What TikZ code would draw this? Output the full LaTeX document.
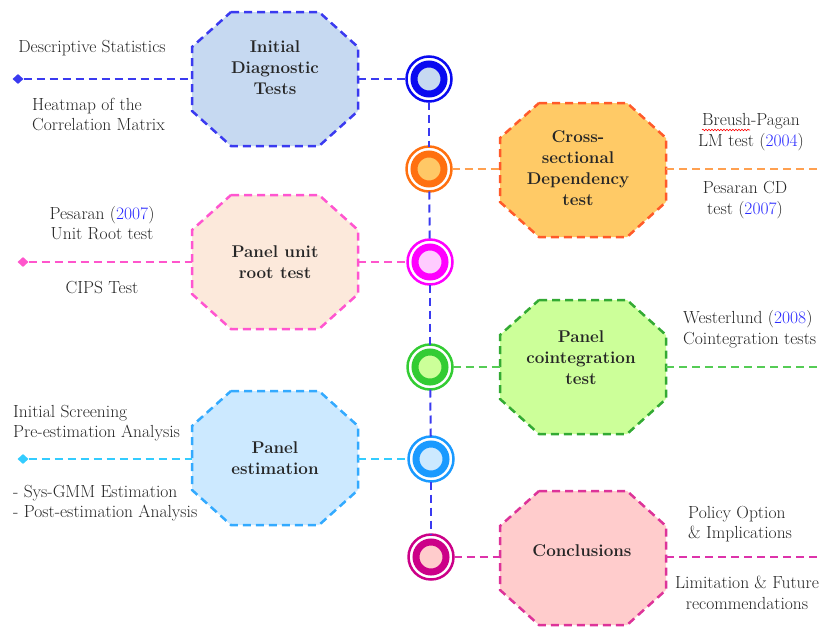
\documentclass[tikz,border=0pt]{standalone}
\usetikzlibrary{shapes.geometric,decorations.pathmorphing,calc}
\definecolor{txt}{HTML}{262626}
\definecolor{yr}{HTML}{2B2BFF}
% group 1 blue
\definecolor{ob1}{HTML}{3A3AF0}\definecolor{of1}{HTML}{C6D9F1}
\definecolor{cb1}{HTML}{0A0AF0}\definecolor{ci1}{HTML}{C6D9F1}
\definecolor{ln1}{HTML}{3A3AF0}
% group 2 orange
\definecolor{ob2}{HTML}{FF5A2A}\definecolor{of2}{HTML}{FFCA66}
\definecolor{cb2}{HTML}{FF7010}\definecolor{ci2}{HTML}{FFC866}
\definecolor{ln2}{HTML}{FFA050}
% group 3 magenta
\definecolor{ob3}{HTML}{FF55D0}\definecolor{of3}{HTML}{FCE9DB}
\definecolor{cb3}{HTML}{FF00FF}\definecolor{ci3}{HTML}{FFCCFF}
\definecolor{ln3}{HTML}{FF55CC}
% group 4 green
\definecolor{ob4}{HTML}{33AA33}\definecolor{of4}{HTML}{CCFF99}
\definecolor{cb4}{HTML}{33CC33}\definecolor{ci4}{HTML}{CCFF99}
\definecolor{ln4}{HTML}{55CC55}
% group 5 light blue
\definecolor{ob5}{HTML}{33AAFF}\definecolor{of5}{HTML}{CCE9FF}
\definecolor{cb5}{HTML}{1A9AFF}\definecolor{ci5}{HTML}{CCE9FF}
\definecolor{ln5}{HTML}{33CCFF}
% group 6 pink
\definecolor{ob6}{HTML}{DD3399}\definecolor{of6}{HTML}{FFCCCC}
\definecolor{cb6}{HTML}{CC0088}\definecolor{ci6}{HTML}{FFCCCC}
\definecolor{ln6}{HTML}{DD33AA}
\definecolor{vline}{HTML}{3A3AF0}
\newcommand\drawoct[3]{%
  \draw[octline, draw=#2, fill=#3]
    ($(#1.north west)+(39,0)$) -- ($(#1.north east)+(-39,0)$) --
    ($(#1.north east)+(0,35)$) -- ($(#1.south east)+(0,-35)$) --
    ($(#1.south east)+(-39,0)$) -- ($(#1.south west)+(39,0)$) --
    ($(#1.south west)+(0,-35)$) -- ($(#1.north west)+(0,35)$) -- cycle;}
\begin{document}
\begin{tikzpicture}[x=1pt,y=-1pt,
  octbox/.style={rectangle, minimum width=166pt, minimum height=134pt, inner sep=0pt, outer sep=0pt},
  octline/.style={line width=2.5pt, dash pattern=on 8pt off 5pt},
  ttl/.style={font=\fontsize{17}{21}\selectfont\bfseries, align=center, text=txt, inner sep=0pt},
  tx/.style={font=\fontsize{17.5}{20.5}\selectfont, text=txt, inner sep=0pt},
  conn/.style={line width=2pt, dash pattern=on 8pt off 5pt},
  ring/.style={circle, minimum size=45pt, inner sep=0pt, outer sep=0pt, line width=2.5pt, fill=white},
  dia/.style={diamond, minimum width=11pt, minimum height=10pt, inner sep=0pt}
]
\useasboundingbox (0,0) rectangle (821,627);

% octagon frames
\node[octbox] (o1) at (275,79) {};
\node[octbox] (o2) at (583,170) {};
\node[octbox] (o3) at (275,262) {};
\node[octbox] (o4) at (583,367) {};
\node[octbox] (o5) at (275,458) {};
\node[octbox] (o6) at (583,558) {};
\drawoct{o1}{ob1}{of1}
\drawoct{o2}{ob2}{of2}
\drawoct{o3}{ob3}{of3}
\drawoct{o4}{ob4}{of4}
\drawoct{o5}{ob5}{of5}
\drawoct{o6}{ob6}{of6}

% titles
\node[ttl] (t1) at (275,68) {Initial\\Diagnostic\\Tests};
\node[ttl] (t2) at (578,168.5) {Cross-\\sectional\\Dependency\\test};
\node[ttl] (t3) at (275,262.5) {Panel unit\\root test};
\node[ttl] (t4) at (581,357.5) {Panel\\cointegration\\test};
\node[ttl] (t5) at (275,458) {Panel\\estimation};
\node[ttl] (t6) at (582,551) {Conclusions};

% circles
\node[ring, draw=cb1] (c1) at (429,79) {};
\node[ring, draw=cb2] (c2) at (429,169) {};
\node[ring, draw=cb3] (c3) at (430,262) {};
\node[ring, draw=cb4] (c4) at (430,367) {};
\node[ring, draw=cb5] (c5) at (431,459) {};
\node[ring, draw=cb6] (c6) at (431,557) {};

% vertical connectors
\draw[conn, vline] (c1) -- (c2);
\draw[conn, vline] (c2) -- (c3);
\draw[conn, vline] (c3) -- (c4);
\draw[conn, vline] (c4) -- (c5);
\draw[conn, vline] (c5) -- (c6);

% inner rings
\foreach \i in {1,...,6}{
  \draw[cb\i, line width=7pt, fill=ci\i] (c\i.center) circle[radius=15pt];
}

% diamonds and end coordinates
\node[dia, fill=ln1] (d1) at (18,79) {};
\node[dia, fill=ln3] (d3) at (23,262) {};
\node[dia, fill=ln5] (d5) at (23,459) {};
\coordinate (e2) at (821,169);
\coordinate (e4) at (821,367);
\coordinate (e6) at (821,557);

% horizontal connectors
\draw[conn, ln1] (d1) -- (o1.west |- d1);
\draw[conn, ln1] (o1.east |- c1) -- (c1);
\draw[conn, ln2] (c2) -- (o2.west |- c2);
\draw[conn, ln2] (o2.east |- e2) -- (e2);
\draw[conn, ln3] (d3) -- (o3.west |- d3);
\draw[conn, ln3] (o3.east |- c3) -- (c3);
\draw[conn, ln4] (c4) -- (o4.west |- c4);
\draw[conn, ln4] (o4.east |- e4) -- (e4);
\draw[conn, ln5] (d5) -- (o5.west |- d5);
\draw[conn, ln5] (o5.east |- c5) -- (c5);
\draw[conn, ln6] (c6) -- (o6.west |- c6);
\draw[conn, ln6] (o6.east |- e6) -- (e6);

% side texts
\node[tx] (a1) at (92,48) {Descriptive Statistics};
\node[tx, align=left, anchor=west] (b1) at (32,114.5) {Heatmap of the\\Correlation Matrix};
\node[tx, align=center] (a2) at (751,132) {Breush-Pagan\\LM test (\textcolor{yr}{2004})};
\node[tx, align=center] (b2) at (745,200) {Pesaran CD\\test (\textcolor{yr}{2007})};
\node[tx, align=center] (a3) at (102,223) {Pesaran (\textcolor{yr}{2007})\\Unit Root test};
\node[tx] (b3) at (102,288) {CIPS Test};
\node[tx, align=left, anchor=west] (a4) at (683,329) {Westerlund (\textcolor{yr}{2008})\\Cointegration tests};
\node[tx, align=left, anchor=west] (a5) at (13,423) {Initial Screening\\Pre-estimation Analysis};
\node[tx, align=left, anchor=west] (b5) at (13,503) {- Sys-GMM Estimation\\- Post-estimation Analysis};
\node[tx, align=left, anchor=west] (a6) at (688,524) {Policy Option\\\& Implications};
\node[tx, align=center] (b6) at (747,593) {Limitation \& Future\\recommendations};

% spell-check underline
\draw[red, line width=0.6pt, decorate, decoration={snake, amplitude=0.8pt, segment length=3pt}]
  (702,130) -- (750,130);
\end{tikzpicture}
\end{document}
